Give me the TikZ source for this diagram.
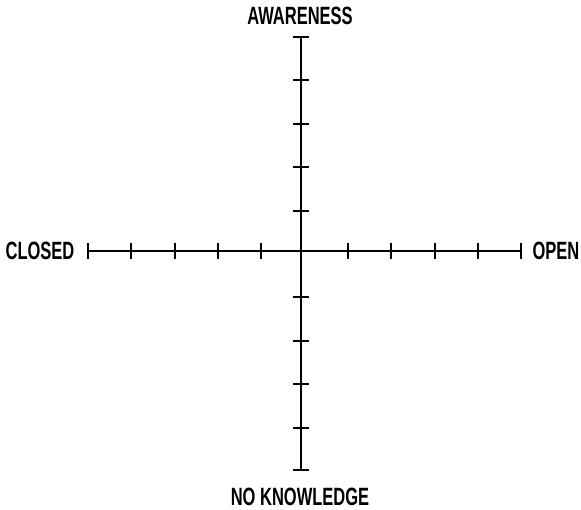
\documentclass[tikz,border=0pt]{standalone}
\usepackage{fontspec}
\newfontfamily\labelfont[FakeStretch=0.66]{Liberation Sans}
\begin{document}
\begin{tikzpicture}[x=1pt,y=-1pt,
  axis/.style={line width=2pt,black},
  tick/.style={line width=2pt,black},
  axlabel/.style={font=\labelfont\bfseries\fontsize{25}{25}\selectfont,inner sep=0pt}]
\useasboundingbox (0,0) rectangle (581,510);
\coordinate (L) at (88,251);
\coordinate (R) at (521,251);
\coordinate (T) at (301,37);
\coordinate (B) at (301,470);
\draw[axis] (L) -- (R);
\draw[axis] (T) -- (B);
\foreach \x in {88,131,175,218,261,348,391,435,478,521}
  \draw[tick] (\x,243) -- (\x,259);
\foreach \y in {37,80,124,167,211,297,341,384,428,470}
  \draw[tick] (293,\y) -- (309,\y);
\node[axlabel] (aw) at (300,16) {AWARENESS};
\node[axlabel] (cl) at (40,251) {CLOSED};
\node[axlabel] (op) at (556,251) {OPEN};
\node[axlabel] (nk) at (300,497) {NO KNOWLEDGE};
\end{tikzpicture}
\end{document}
